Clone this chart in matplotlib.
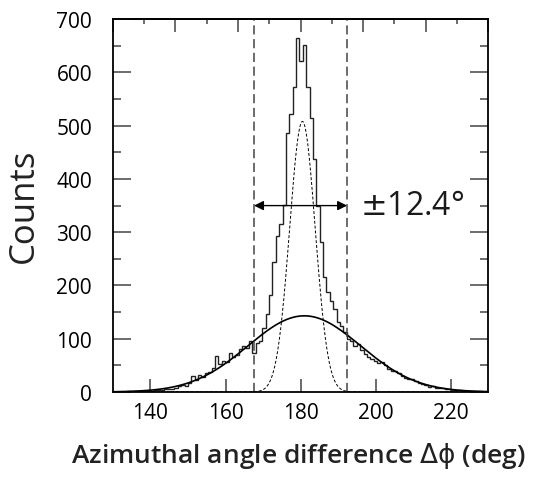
import numpy as np
import matplotlib
matplotlib.use('Agg')
import matplotlib.pyplot as plt
from matplotlib.ticker import FixedLocator, MultipleLocator, NullFormatter

# DATA.
# Histogram of the azimuthal angle difference, 0.9 deg bins from 131.1 deg.
bin_start = 131.1
bin_width = 0.9
counts = [0, 0, 0, 1, 0, 1, 1, 1, 2, 1,
          2, 3, 4, 3, 5, 6, 5, 8, 11, 13,
          12, 16, 30, 22, 32, 28, 35, 38, 45, 68,
          52, 58, 56, 73, 66, 70, 80, 86, 82, 95,
          74, 92, 96, 120, 146, 183, 245, 293, 315, 352,
          487, 522, 572, 664, 622, 651, 572, 515, 437, 350,
          281, 216, 188, 171, 156, 131, 124, 112, 100, 96,
          86, 90, 78, 72, 66, 62, 58, 55, 57, 50,
          44, 40, 40, 35, 30, 26, 24, 25, 20, 16,
          15, 14, 10, 12, 8, 7, 7, 5, 6, 4,
          3, 3, 2, 2, 1, 1, 1, 1, 0, 0]
# Gaussian fits: (amplitude, mean, sigma).
wide_fit = (143, 181.0, 15.0)
narrow_fit = (508, 180.5, 3.4)
# Cut window.
window_center = 180.0
window_half = 12.4
arrow_y = 350
window_label = r'$\pm$12.4°'
# Axes.
x_ticks = [140, 160, 180, 200, 220]
y_ticks = [0, 100, 200, 300, 400, 500, 600, 700]
top_major = [130, 146.67, 163.33, 180, 196.67, 213.33, 230]
top_minor = [138.33, 155, 171.67, 188.33, 205, 221.67]

plt.rcParams['font.family'] = ['Open Sans', 'DejaVu Sans']
plt.rcParams['mathtext.fontset'] = 'dejavusans'

# PLOT.
fig = plt.figure(figsize=(5.43, 4.81), dpi=100)
ax = fig.add_axes([0.208, 0.183, 0.691, 0.775])

edges = bin_start + bin_width * np.arange(len(counts) + 1)
ax.stairs(counts, edges, color='#222222', linewidth=1.0)

xs = np.linspace(130, 230, 800)
amp, mu, sig = wide_fit
ax.plot(xs, amp * np.exp(-0.5 * ((xs - mu) / sig) ** 2), color='black', linewidth=1.2)
amp, mu, sig = narrow_fit
ax.plot(xs, amp * np.exp(-0.5 * ((xs - mu) / sig) ** 2), color='black', linewidth=0.7,
        linestyle=(0, (3, 2)))

lo, hi = window_center - window_half, window_center + window_half
for xv in (lo, hi):
    ax.axvline(xv, color='#444444', linewidth=1.1, linestyle=(0, (6, 3)))
ax.annotate('', xy=(lo, arrow_y), xytext=(hi, arrow_y),
            arrowprops=dict(arrowstyle='<|-|>', color='black', lw=1.0,
                            mutation_scale=14, shrinkA=0, shrinkB=0))
ax.text(hi + 3.4, arrow_y, window_label, ha='left', va='center', fontsize=23, color='#1a1a1a')

ax.set_xlim(130, 230)
ax.set_ylim(0, 700)
ax.set_xticks(x_ticks)
ax.set_yticks(y_ticks)
ax.yaxis.set_minor_locator(MultipleLocator(50))
ax.tick_params(axis='y', which='both', direction='in', right=True, labelsize=15,
               pad=15, color='#444444', width=1.1)
ax.tick_params(axis='y', which='major', length=13)
ax.tick_params(axis='y', which='minor', length=6)
ax.tick_params(axis='x', which='major', direction='in', length=9.5, labelsize=15,
               pad=7, color='#444444', width=1.1)
for sp in ax.spines.values():
    sp.set_linewidth(1.3)

top = ax.secondary_xaxis('top')
top.xaxis.set_major_locator(FixedLocator(top_major))
top.xaxis.set_minor_locator(FixedLocator(top_minor))
top.xaxis.set_major_formatter(NullFormatter())
top.tick_params(which='both', direction='in', color='#444444', width=1.1)
top.tick_params(which='major', length=9)
top.tick_params(which='minor', length=3.5)
top.spines['top'].set_linewidth(1.3)

fig.text(0.044, 0.572, 'Counts', rotation=90, ha='center', va='center', fontsize=25,
         color='#222222')
fig.text(0.549, 0.052, r'Azimuthal angle difference $\mathrm{\Delta\phi}$ (deg)', ha='center',
         va='center', fontsize=19, fontweight='semibold', color='#222222')

fig.savefig('out.png', dpi=100)
